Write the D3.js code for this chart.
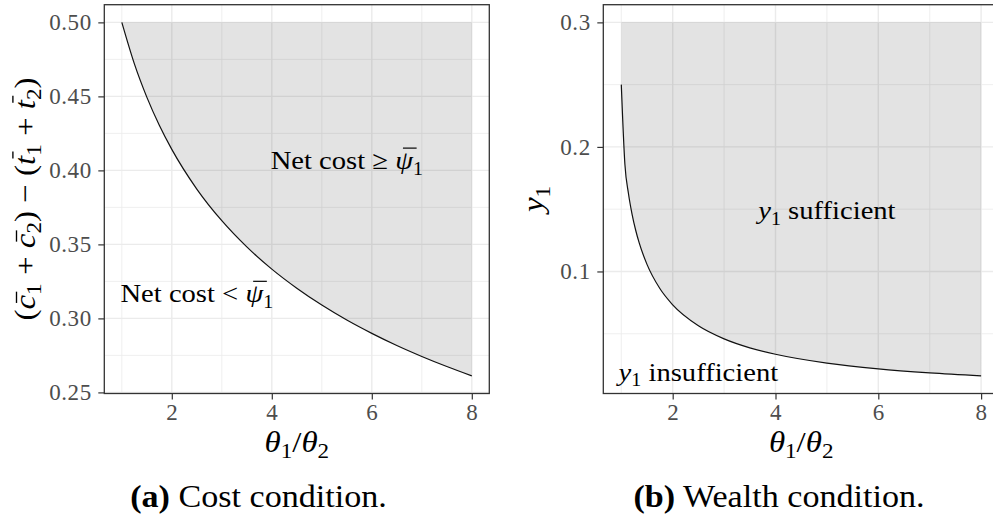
<!DOCTYPE html>
<html>
<head>
<meta charset="utf-8">
<script src="https://cdn.jsdelivr.net/npm/d3@7"></script>
<style>
	body { margin: 0; background: #fff; }
	text { font-family: "Liberation Serif", "DejaVu Serif", serif; }
</style>
</head>
<body>
<div id="chart"></div>
<script>

// values
const ratioCost = [1, 1.25, 1.5, 1.75, 2, 2.5, 3, 3.5, 4, 4.5, 5, 5.5, 6, 6.5, 7, 7.5, 8];
const costBound = [0.5000, 0.4721, 0.4495, 0.4305, 0.4142, 0.3874, 0.3660, 0.3483, 0.3333, 0.3204, 0.3090, 0.2989, 0.2899, 0.2817, 0.2743, 0.2675, 0.2612];
const costTop = 0.5;

const ratioWealth = [1, 1.07, 1.14, 1.21, 1.28, 1.35, 1.5, 1.75, 2, 2.5, 3, 3.5, 4, 5, 6, 7, 8];
const wealthBound = [0.2500, 0.1861, 0.1624, 0.1459, 0.1331, 0.1227, 0.1057, 0.0863, 0.0732, 0.0564, 0.0459, 0.0387, 0.0335, 0.0264, 0.0218, 0.0186, 0.0162];
const wealthTop = 0.3;

const xTicks = [2, 4, 6, 8];
const xMinor = [1, 3, 5, 7];
const costTicks = [0.25, 0.30, 0.35, 0.40, 0.45, 0.50];
const costMinor = [0.275, 0.325, 0.375, 0.425, 0.475];
const wealthTicks = [0.1, 0.2, 0.3];
const wealthMinor = [0.05, 0.15, 0.25];

let W = 993, H = 521;
let svg = d3.select('#chart').append('svg').attr('width', W).attr('height', H);

// ggplot style 5% expansion
function expand(ext) {
	let d = (ext[1] - ext[0]) * 0.05;
	return [ext[0] - d, ext[1] + d];
}

// mixed text: r roman, i italic, s subscript, b bold; third item = bar height (em) over the glyph
// widened a little since the original is set in Computer Modern
function richText(parent, x, y, rot, parts, size) {
	let g = parent.append('g').attr('transform', 'translate(' + x + ',' + y + ')' + (rot ? ' rotate(' + rot + ')' : '') + ' scale(1.1,1)');
	let t = g.append('text').attr('text-anchor', 'middle').attr('font-size', size);
	let shift = 0;
	let bars = [];
	parts.forEach(function(p) {
		let ts = t.append('tspan').text(p[0]);
		let want = p[1] === 's' ? size * 0.22 : 0;
		if (want !== shift) { ts.attr('dy', want - shift); shift = want; }
		if (p[1] === 'i') ts.attr('font-style', 'italic');
		if (p[1] === 'b') ts.attr('font-weight', 'bold');
		if (p[1] === 's') ts.attr('font-size', size * 0.7);
		if (p[2]) bars.push([ts.node(), p[2]]);
	});
	bars.forEach(function(b) {
		let p0 = b[0].getStartPositionOfChar(0);
		let w = b[0].getComputedTextLength();
		let lift = b[1] * size;
		let skew = lift * 0.2;
		g.append('line')
			.attr('x1', p0.x + w * 0.18 + skew).attr('x2', p0.x + w * 0.95 + skew)
			.attr('y1', p0.y - lift).attr('y2', p0.y - lift)
			.attr('stroke', '#000').attr('stroke-width', size * 0.045);
	});
	return g;
}

function drawPanel(cfg) {
	let rows = cfg.ratio.map(function(r, i) { return { r: r, v: cfg.bound[i] }; });
	let x = d3.scaleLinear().domain(expand(d3.extent(cfg.ratio))).range([cfg.left, cfg.right]);
	let y = d3.scaleLinear().domain(expand([d3.min(cfg.bound), cfg.top])).range([393.5, 4.7]);
	let g = svg.append('g');

	// grid
	g.selectAll('.xminor').data(xMinor).enter().append('line')
		.attr('x1', x).attr('x2', x).attr('y1', 4.7).attr('y2', 393.5)
		.attr('stroke', '#ebebeb').attr('stroke-width', 0.8);
	g.selectAll('.yminor').data(cfg.minor).enter().append('line')
		.attr('y1', y).attr('y2', y).attr('x1', cfg.left).attr('x2', cfg.right)
		.attr('stroke', '#ebebeb').attr('stroke-width', 0.8);
	g.selectAll('.xmajor').data(xTicks).enter().append('line')
		.attr('x1', x).attr('x2', x).attr('y1', 4.7).attr('y2', 393.5)
		.attr('stroke', '#ebebeb').attr('stroke-width', 1.4);
	g.selectAll('.ymajor').data(cfg.ticks).enter().append('line')
		.attr('y1', y).attr('y2', y).attr('x1', cfg.left).attr('x2', cfg.right)
		.attr('stroke', '#ebebeb').attr('stroke-width', 1.4);

	// shaded region between curve and top
	let area = d3.area().x(function(d) { return x(d.r); })
		.y0(y(cfg.top)).y1(function(d) { return y(d.v); })
		.curve(d3.curveMonotoneX);
	g.append('path').datum(rows).attr('d', area)
		.attr('fill', '#000').attr('fill-opacity', 0.11);

	let line = d3.line().x(function(d) { return x(d.r); })
		.y(function(d) { return y(d.v); })
		.curve(d3.curveMonotoneX);
	g.append('path').datum(rows).attr('d', line)
		.attr('fill', 'none').attr('stroke', '#111').attr('stroke-width', 1.2);

	// border
	g.append('rect').attr('x', cfg.left).attr('y', 4.7)
		.attr('width', cfg.right - cfg.left).attr('height', 393.5 - 4.7)
		.attr('fill', 'none').attr('stroke', '#333').attr('stroke-width', 1.3);

	// axes
	let ax = g.append('g').attr('transform', 'translate(0,393.5)')
		.call(d3.axisBottom(x).tickValues(xTicks).tickSize(6).tickPadding(4));
	let ay = g.append('g').attr('transform', 'translate(' + cfg.left + ',0)')
		.call(d3.axisLeft(y).tickValues(cfg.ticks).tickSize(6).tickPadding(6.5).tickFormat(d3.format(cfg.fmt)));
	[ax, ay].forEach(function(a) {
		a.select('.domain').remove();
		a.selectAll('line').attr('stroke', '#333').attr('stroke-width', 1.2);
		a.selectAll('text').attr('fill', '#4d4d4d').attr('font-size', 23)
			.style('font-family', '"Liberation Serif", serif')
			.style('letter-spacing', '0.6px');
	});

	// axis titles
	richText(g, (cfg.left + cfg.right) / 2, 451.5, 0,
		[['θ', 'i'], ['1', 's'], ['/', 'r'], ['θ', 'i'], ['2', 's']], 30);
	richText(g, cfg.ytitleX, 199, -90, cfg.ytitle, 30);

	// region labels
	cfg.notes.forEach(function(n) {
		richText(g, x(n.x), y(n.y), 0, n.parts, 26);
	});

	// caption
	richText(svg, cfg.capX, 507, 0, cfg.caption, 31);
}

drawPanel({
	ratio: ratioCost, bound: costBound, top: costTop,
	ticks: costTicks, minor: costMinor, fmt: '.2f',
	left: 104.3, right: 489.3, ytitleX: 34.5,
	ytitle: [['(', 'r'], ['c', 'i', 0.6], ['1', 's'], [' + ', 'r'], ['c', 'i', 0.6], ['2', 's'],
		[') \u2212 (', 'r'], ['t', 'i', 0.72], ['1', 's'], [' + ', 'r'], ['t', 'i', 0.72], ['2', 's'], [')', 'r']],
	notes: [
		{ x: 5.5, y: 0.4010, parts: [['Net cost \u2265 ', 'r'], ['\u03c8', 'i', 0.8], ['1', 's']] },
		{ x: 2.5, y: 0.3110, parts: [['Net cost < ', 'r'], ['\u03c8', 'i', 0.8], ['1', 's']] }
	],
	capX: 258.5,
	caption: [['(a)', 'b'], [' Cost condition.', 'r']]
});

drawPanel({
	ratio: ratioWealth, bound: wealthBound, top: wealthTop,
	ticks: wealthTicks, minor: wealthMinor, fmt: '.1f',
	left: 603.3, right: 999.1, ytitleX: 543,
	ytitle: [['y', 'i'], ['1', 's']],
	notes: [
		{ x: 5, y: 0.1418, parts: [['y', 'i'], ['1', 's'], [' sufficient', 'r']] },
		{ x: 2.5, y: 0.0124, parts: [['y', 'i'], ['1', 's'], [' insufficient', 'r']] }
	],
	capX: 779,
	caption: [['(b)', 'b'], [' Wealth condition.', 'r']]
});

</script>
</body>
</html>
